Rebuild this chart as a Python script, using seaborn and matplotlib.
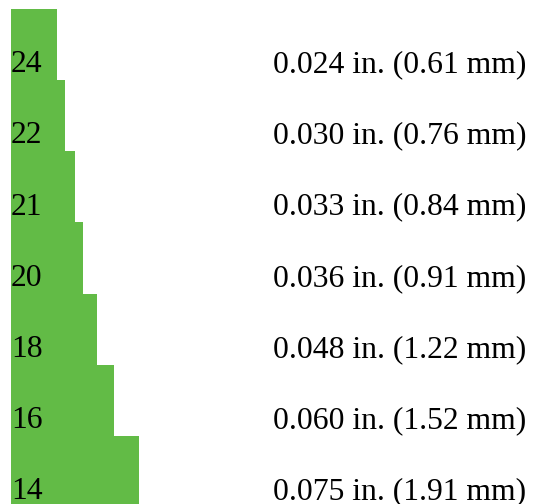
import seaborn as sns
import matplotlib.pyplot as plt

# wire gauge data
gauges = ["24", "22", "21", "20", "18", "16", "14"]
inches = [0.024, 0.030, 0.033, 0.036, 0.048, 0.060, 0.075]
mm = [0.61, 0.76, 0.84, 0.91, 1.22, 1.52, 1.91]
# drawn bar lengths (chart units)
bar_len = [46, 54, 64, 72, 86, 103, 128]

sns.set_theme(style="white")
plt.rcParams['font.family'] = ['Liberation Serif', 'DejaVu Serif']

fig = plt.figure(figsize=(5.33, 5.04), dpi=100)
ax = fig.add_axes([11 / 533, -3 / 504, 522 / 533, 498 / 504])

sns.barplot(x=bar_len, y=gauges, orient="h", color="#62bb46", saturation=1,
            width=1.0, linewidth=0, ax=ax)

ax.set_xlim(0, 522)
ax.set_ylim(6.5, -0.5)

for i, g in enumerate(gauges):
    ax.text(0, i + 0.39, g, fontsize=22.8, va="baseline", ha="left", color="black")
    ax.text(262, i + 0.39, f"{inches[i]:.3f} in. ({mm[i]:.2f} mm)", fontsize=22.8,
            va="baseline", ha="left", color="black")

ax.axis("off")
fig.savefig("out.png", dpi=100)
